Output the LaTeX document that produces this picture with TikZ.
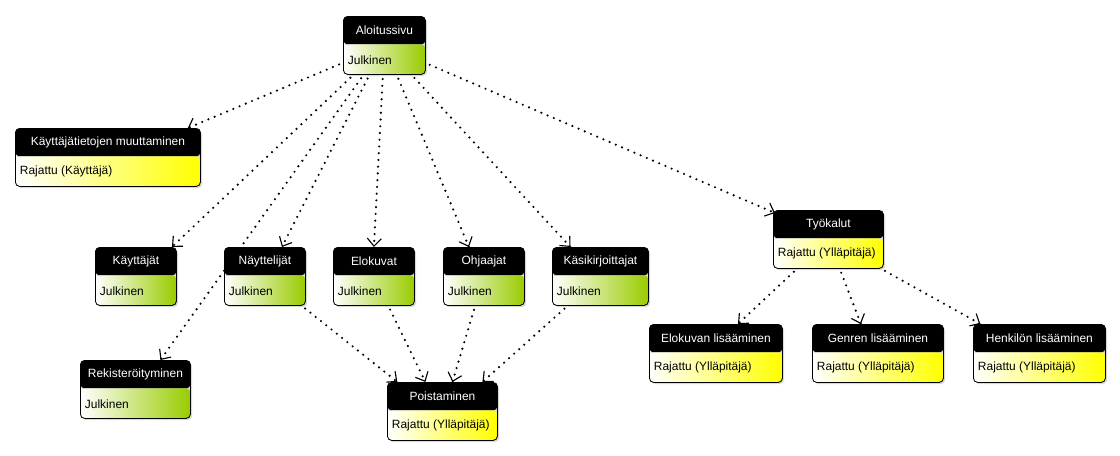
\documentclass[tikz,border=0pt]{standalone}
\usepackage{fontspec}
\setmainfont{Liberation Sans}
\usetikzlibrary{arrows.meta,positioning,calc,shadows,backgrounds,decorations.markings}

\newlength\px
\setlength\px{0.025cm}

\definecolor{julkinen}{HTML}{99CC00}
\definecolor{rajattu}{HTML}{FFFF00}

\tikzset{
  sivu/.style={draw=black, line width=0.6pt, rounded corners=3pt, anchor=north west,
    inner sep=0pt, minimum height=58*\px,
    drop shadow={shadow xshift=1.2pt, shadow yshift=-1.2pt, opacity=0.3},
    path picture={
      \fill[black] (path picture bounding box.north west) rectangle ([yshift=-28*\px]path picture bounding box.north east);
      \shade[left color=white, right color=#1] ([yshift=-28*\px]path picture bounding box.north west) rectangle (path picture bounding box.south east);
    }},
  otsikko/.style={text=white, font=\fontsize{8.5}{10}\selectfont},
  teksti/.style={anchor=west, font=\fontsize{8.5}{10}\selectfont},
  kaari/.style={line width=1.7pt, dash pattern=on 0pt off 4.8pt, line cap=round, shorten <=3pt,
    postaction={decorate},
    decoration={markings, mark=at position 1 with {\arrow[solid, line width=0.8pt, line cap=butt]{Straight Barb[length=5.5pt,width=10pt]}}}},
}

% name, x, y, width, title, body, colour
\newcommand\sivu[7]{%
  \node[sivu=#7, minimum width=#4*\px] (#1) at (#2,#3) {};
  \node[otsikko] (#1-o) at ([yshift=-14*\px]#1.north) {#5};
  \node[teksti] (#1-t) at ([yshift=15*\px]#1.south west) {#6};
}

\begin{document}
\begin{tikzpicture}[x=0.025cm, y=-0.025cm]
\useasboundingbox (0,0) rectangle (1120,455);

\sivu{aloitus}{343}{16}{82}{Aloitussivu}{Julkinen}{julkinen}
\sivu{tiedot}{15}{128}{185}{Käyttäjätietojen muuttaminen}{Rajattu (Käyttäjä)}{rajattu}

\sivu{kayttajat}{95}{247}{81}{Käyttäjät}{Julkinen}{julkinen}
\sivu{nayttelijat}{224}{247}{81}{Näyttelijät}{Julkinen}{julkinen}
\sivu{elokuvat}{333}{247}{81}{Elokuvat}{Julkinen}{julkinen}
\sivu{ohjaajat}{443}{247}{81}{Ohjaajat}{Julkinen}{julkinen}
\sivu{kasikirjoittajat}{552}{247}{96}{Käsikirjoittajat}{Julkinen}{julkinen}

\sivu{rekisteri}{80}{360}{110}{Rekisteröityminen}{Julkinen}{julkinen}
\sivu{poisto}{387}{382}{110}{Poistaminen}{Rajattu (Ylläpitäjä)}{rajattu}

\sivu{tyokalut}{773}{210}{110}{Työkalut}{Rajattu (Ylläpitäjä)}{rajattu}
\sivu{elokuvanlisays}{649}{324}{133}{Elokuvan lisääminen}{Rajattu (Ylläpitäjä)}{rajattu}
\sivu{genrenlisays}{812}{324}{131}{Genren lisääminen}{Rajattu (Ylläpitäjä)}{rajattu}
\sivu{henkilonlisays}{973}{324}{132}{Henkilön lisääminen}{Rajattu (Ylläpitäjä)}{rajattu}

\begin{scope}[on background layer]
  % aloitussivulta
  \draw[kaari] (aloitus) -- ([xshift=-13*\px]tiedot.north east);
  \draw[kaari] (aloitus) -- ([xshift=36*\px]kayttajat.north);
  \draw[kaari] (aloitus) -- ([xshift=25*\px]rekisteri.north);
  \draw[kaari] (aloitus) -- ([xshift=17*\px]nayttelijat.north);
  \draw[kaari] (aloitus) -- (elokuvat.north);
  \draw[kaari] (aloitus) -- ([xshift=-15*\px]ohjaajat.north);
  \draw[kaari] (aloitus) -- ([xshift=-30*\px]kasikirjoittajat.north);
  \draw[kaari] (aloitus) -- ([xshift=2*\px,yshift=-3*\px]tyokalut.north west);
  % poistaminen
  \draw[kaari] (nayttelijat) -- ([xshift=-45*\px]poisto.north);
  \draw[kaari] (elokuvat) -- ([xshift=-17*\px]poisto.north);
  \draw[kaari] (ohjaajat) -- ([xshift=10*\px]poisto.north);
  \draw[kaari] (kasikirjoittajat) -- ([xshift=40*\px]poisto.north);
  % työkalut
  \draw[kaari] (tyokalut) -- ([xshift=22*\px]elokuvanlisays.north);
  \draw[kaari] (tyokalut) -- ([xshift=-17*\px]genrenlisays.north);
  \draw[kaari] (tyokalut) -- ([xshift=-59*\px]henkilonlisays.north);
\end{scope}
\end{tikzpicture}
\end{document}
